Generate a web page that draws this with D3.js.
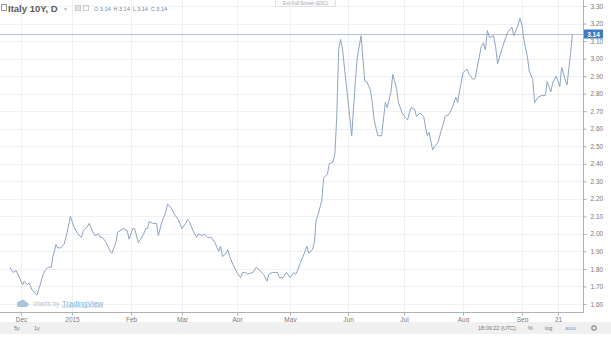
<!DOCTYPE html>
<html>
<head>
<meta charset="utf-8">
<script src="https://cdn.jsdelivr.net/npm/d3@7"></script>
<style>
  html, body { margin: 0; padding: 0; background: #fff; }
  svg { display: block; font-family: "Liberation Sans", Arial, sans-serif; }
</style>
</head>
<body>
<svg id="chart" width="611" height="340"></svg>
<script>
// Italy 10Y daily yield
const dates = [
  '2014-11-24', '2014-11-26', '2014-11-28', '2014-11-30', '2014-12-02', '2014-12-03', '2014-12-05', '2014-12-06',
  '2014-12-08', '2014-12-11', '2014-12-13', '2014-12-15', '2014-12-16', '2014-12-18', '2014-12-20', '2014-12-21',
  '2014-12-23', '2014-12-24', '2014-12-26', '2014-12-28', '2014-12-30', '2015-01-01', '2015-01-03', '2015-01-05',
  '2015-01-07', '2015-01-08', '2015-01-10', '2015-01-11', '2015-01-13', '2015-01-14', '2015-01-16', '2015-01-17',
  '2015-01-18', '2015-01-20', '2015-01-22', '2015-01-23', '2015-01-25', '2015-01-26', '2015-01-29', '2015-01-31',
  '2015-02-01', '2015-02-03', '2015-02-04', '2015-02-06', '2015-02-09', '2015-02-10', '2015-02-11', '2015-02-12',
  '2015-02-14', '2015-02-16', '2015-02-17', '2015-02-19', '2015-02-21', '2015-02-22', '2015-02-24', '2015-02-26',
  '2015-02-28', '2015-03-02', '2015-03-04', '2015-03-05', '2015-03-06', '2015-03-08', '2015-03-10', '2015-03-11',
  '2015-03-13', '2015-03-14', '2015-03-16', '2015-03-18', '2015-03-20', '2015-03-22', '2015-03-23', '2015-03-24',
  '2015-03-26', '2015-03-27', '2015-03-28', '2015-03-30', '2015-04-01', '2015-04-03', '2015-04-04', '2015-04-06',
  '2015-04-07', '2015-04-10', '2015-04-12', '2015-04-14', '2015-04-16', '2015-04-18', '2015-04-19', '2015-04-21',
  '2015-04-24', '2015-04-25', '2015-04-27', '2015-04-29', '2015-05-01', '2015-05-03', '2015-05-04', '2015-05-05',
  '2015-05-07', '2015-05-08', '2015-05-10', '2015-05-11', '2015-05-13', '2015-05-14', '2015-05-15', '2015-05-16',
  '2015-05-18', '2015-05-19', '2015-05-21', '2015-05-22', '2015-05-24', '2015-05-25', '2015-05-26', '2015-05-27',
  '2015-05-28', '2015-05-29', '2015-05-31', '2015-06-01', '2015-06-03', '2015-06-05', '2015-06-06', '2015-06-08',
  '2015-06-10', '2015-06-11', '2015-06-13', '2015-06-14', '2015-06-15', '2015-06-17', '2015-06-19', '2015-06-21',
  '2015-06-22', '2015-06-24', '2015-06-25', '2015-06-27', '2015-06-28', '2015-06-30', '2015-07-02', '2015-07-03',
  '2015-07-04', '2015-07-05', '2015-07-07', '2015-07-08', '2015-07-10', '2015-07-12', '2015-07-13', '2015-07-14',
  '2015-07-15', '2015-07-17', '2015-07-19', '2015-07-20', '2015-07-21', '2015-07-23', '2015-07-24', '2015-07-26',
  '2015-07-28', '2015-07-30', '2015-07-31', '2015-08-01', '2015-08-03', '2015-08-05', '2015-08-06', '2015-08-08',
  '2015-08-09', '2015-08-10', '2015-08-12', '2015-08-13', '2015-08-14', '2015-08-15', '2015-08-16', '2015-08-18',
  '2015-08-19', '2015-08-20', '2015-08-22', '2015-08-24', '2015-08-25', '2015-08-27', '2015-08-28', '2015-08-30',
  '2015-08-31', '2015-09-01', '2015-09-02', '2015-09-04', '2015-09-05', '2015-09-07', '2015-09-08', '2015-09-10',
  '2015-09-12', '2015-09-14', '2015-09-15', '2015-09-17', '2015-09-18', '2015-09-20', '2015-09-22', '2015-09-23',
  '2015-09-25', '2015-09-26', '2015-09-28', '2015-09-29'
];
const yields = [
  1.81, 1.78, 1.79, 1.75, 1.71, 1.73, 1.71, 1.72,
  1.68, 1.65, 1.71, 1.77, 1.79, 1.81, 1.81, 1.87,
  1.94, 1.92, 1.92, 1.94, 2.01, 2.10, 2.04, 2.00,
  1.98, 2.02, 2.04, 2.06, 2.01, 1.99, 2.00, 1.98,
  1.98, 1.95, 1.90, 1.89, 1.95, 2.01, 2.03, 2.02,
  1.97, 2.03, 2.03, 1.95, 2.00, 2.03, 2.03, 2.07,
  2.06, 2.06, 1.99, 2.07, 2.12, 2.17, 2.15, 2.11,
  2.08, 2.03, 2.06, 2.08, 2.07, 2.02, 1.98, 2.00,
  1.99, 2.00, 1.98, 1.98, 1.95, 1.90, 1.93, 1.87,
  1.89, 1.91, 1.87, 1.82, 1.78, 1.75, 1.78, 1.78,
  1.77, 1.78, 1.81, 1.79, 1.77, 1.73, 1.77, 1.78,
  1.78, 1.75, 1.75, 1.78, 1.75, 1.78, 1.77, 1.79,
  1.85, 1.87, 1.93, 1.89, 1.91, 1.95, 2.08, 2.11,
  2.19, 2.32, 2.34, 2.40, 2.41, 2.46, 2.67, 3.05,
  3.11, 3.06, 2.86, 2.76, 2.56, 2.88, 3.01, 3.13,
  2.87, 2.87, 2.82, 2.75, 2.65, 2.56, 2.56, 2.75,
  2.72, 2.81, 2.91, 2.83, 2.75, 2.69, 2.66, 2.65,
  2.69, 2.72, 2.71, 2.67, 2.69, 2.67, 2.61, 2.56,
  2.58, 2.48, 2.51, 2.52, 2.56, 2.63, 2.67, 2.68,
  2.72, 2.78, 2.75, 2.81, 2.92, 2.94, 2.91, 2.88,
  2.89, 2.95, 3.07, 3.09, 3.05, 3.16, 3.12, 3.13,
  3.07, 2.97, 3.05, 3.12, 3.15, 3.18, 3.13, 3.19,
  3.23, 3.19, 3.11, 3.01, 2.93, 2.88, 2.75, 2.78,
  2.79, 2.79, 2.87, 2.81, 2.86, 2.90, 2.84, 2.95,
  2.88, 2.85, 3.03, 3.14
];
const lastPrice = 3.14;

// axis ticks
const yTicks = [1.60, 1.70, 1.80, 1.90, 2.00, 2.10, 2.20, 2.30, 2.40, 2.50, 2.60, 2.70, 2.80, 2.90, 3.00, 3.10, 3.20, 3.30];
const monthTicks = ['2014-12-01', '2015-01-02', '2015-02-02', '2015-03-02', '2015-04-01', '2015-05-01',
  '2015-06-01', '2015-07-01', '2015-08-03', '2015-09-01', '2015-09-21'];
const monthLabels = ['Dec', '2015', 'Feb', 'Mar', 'Apr', 'May', 'Jun', 'Jul', 'Aug', 'Sep', '21'];

const parse = d3.timeParse('%Y-%m-%d');
const data = dates.map((d, i) => ({ date: parse(d), value: yields[i] }));
const tickDates = monthTicks.map(parse);

const plotRight = 583;
const plotBottom = 312;
const gridColor = '#eef0f3';
const textColor = '#777';

const svg = d3.select('#chart');

// bar spacing is by trading day, so months are not equally wide
const x = d3.scaleTime()
  .domain(tickDates)
  .range([21, 72, 131, 182, 237, 290, 348, 404, 463, 522, 558]);

const y = d3.scaleLinear()
  .domain([1.60, 3.30])
  .range([304, 6]);

// grid
svg.append('g')
  .selectAll('line')
  .data(yTicks)
  .join('line')
  .attr('x1', 0)
  .attr('x2', plotRight)
  .attr('y1', d => Math.round(y(d)) + 0.5)
  .attr('y2', d => Math.round(y(d)) + 0.5)
  .attr('stroke', gridColor);

svg.append('g')
  .selectAll('line')
  .data(tickDates)
  .join('line')
  .attr('x1', d => Math.round(x(d)) + 0.5)
  .attr('x2', d => Math.round(x(d)) + 0.5)
  .attr('y1', 0)
  .attr('y2', plotBottom)
  .attr('stroke', gridColor);

// watermark
const wm = svg.append('g').attr('transform', 'translate(17,303)');
wm.append('path')
  .attr('d', 'M0,2 a3,3 0 0 1 3,-4 a3.5,3.5 0 0 1 6,1 a2.5,2.5 0 0 1 0,5 h-8 a2,2 0 0 1 -1,-2 z')
  .attr('fill', '#a9c4dc');
wm.append('text')
  .attr('x', 16).attr('y', 2.5)
  .attr('font-size', 6.5)
  .attr('fill', '#b9c6d3')
  .text('charts by');
wm.append('text')
  .attr('x', 45).attr('y', 2.5)
  .attr('font-size', 7.5)
  .attr('fill', '#7fb3da')
  .attr('text-decoration', 'underline')
  .text('TradingView');

// last price line
svg.append('line')
  .attr('x1', 0)
  .attr('x2', plotRight)
  .attr('y1', Math.round(y(lastPrice)) + 0.5)
  .attr('y2', Math.round(y(lastPrice)) + 0.5)
  .attr('stroke', '#b3c2d6');

// yield line
svg.append('path')
  .datum(data)
  .attr('fill', 'none')
  .attr('stroke', '#8ea3c3')
  .attr('stroke-width', 1)
  .attr('stroke-linejoin', 'round')
  .attr('d', d3.line()
    .x(d => x(d.date))
    .y(d => y(d.value)));

// frame
svg.append('line')
  .attr('x1', plotRight + 0.5).attr('x2', plotRight + 0.5)
  .attr('y1', 0).attr('y2', plotBottom + 0.5)
  .attr('stroke', '#b0b0b0');
svg.append('line')
  .attr('x1', 0).attr('x2', plotRight + 0.5)
  .attr('y1', plotBottom + 0.5).attr('y2', plotBottom + 0.5)
  .attr('stroke', '#b0b0b0');

// right axis
const yAxis = svg.append('g')
  .attr('transform', 'translate(' + (plotRight + 0.5) + ',0)')
  .call(d3.axisRight(y)
    .tickValues(yTicks)
    .tickFormat(d3.format('.2f'))
    .tickSize(3)
    .tickPadding(4));
yAxis.select('.domain').remove();
yAxis.selectAll('line').attr('stroke', '#b0b0b0');
yAxis.selectAll('text')
  .attr('fill', textColor)
  .attr('font-size', 6.5)
  .attr('font-family', '"Liberation Sans", Arial, sans-serif');

// bottom axis
const xAxis = svg.append('g')
  .attr('transform', 'translate(0,' + (plotBottom + 0.5) + ')')
  .call(d3.axisBottom(x)
    .tickValues(tickDates)
    .tickFormat((d, i) => monthLabels[i])
    .tickSize(3)
    .tickPadding(1.5));
xAxis.select('.domain').remove();
xAxis.selectAll('line').attr('stroke', '#b0b0b0');
xAxis.selectAll('text')
  .attr('fill', textColor)
  .attr('font-size', 6.5)
  .attr('font-family', '"Liberation Sans", Arial, sans-serif');

// last price label
const lp = svg.append('g')
  .attr('transform', 'translate(' + (plotRight + 1) + ',' + Math.round(y(lastPrice)) + ')');
lp.append('rect')
  .attr('x', 0).attr('y', -4.5)
  .attr('width', 19).attr('height', 9)
  .attr('fill', '#3e79c1');
lp.append('text')
  .attr('x', 9.5).attr('y', 2.5)
  .attr('text-anchor', 'middle')
  .attr('font-size', 6.5)
  .attr('font-weight', 'bold')
  .attr('fill', '#fff')
  .text(lastPrice.toFixed(2));

// header
const hd = svg.append('g');
hd.append('rect')
  .attr('x', 1.5).attr('y', 4.5)
  .attr('width', 5).attr('height', 6)
  .attr('fill', 'none')
  .attr('stroke', '#999');
hd.append('text')
  .attr('x', 8).attr('y', 12)
  .attr('font-size', 9.5)
  .attr('font-weight', 'bold')
  .attr('fill', '#5a5a5a')
  .text('Italy 10Y, D');
hd.append('text')
  .attr('x', 64).attr('y', 11)
  .attr('font-size', 6)
  .attr('fill', '#bbb')
  .text('\u25BE');
hd.append('rect')
  .attr('x', 75.5).attr('y', 5.5)
  .attr('width', 5).attr('height', 5)
  .attr('fill', '#e4e4e4')
  .attr('stroke', '#ccc');
hd.append('rect')
  .attr('x', 83.5).attr('y', 5.5)
  .attr('width', 5).attr('height', 5)
  .attr('fill', 'none')
  .attr('stroke', '#ccc');

const ohlc = hd.append('text')
  .attr('x', 94).attr('y', 11)
  .attr('font-size', 5.5)
  .attr('fill', '#888');
['O', 'H', 'L', 'C'].forEach((k, i) => {
  ohlc.append('tspan').attr('dx', i ? 3 : 0).text(k + ' ');
  ohlc.append('tspan').attr('fill', '#5b86b8').text(lastPrice.toFixed(2));
});

// exit full screen hint
svg.append('rect')
  .attr('x', 275.5).attr('y', -0.5)
  .attr('width', 60).attr('height', 7)
  .attr('fill', '#fbfbfb')
  .attr('stroke', '#e2e2e2');
svg.append('text')
  .attr('x', 305.5).attr('y', 4.5)
  .attr('text-anchor', 'middle')
  .attr('font-size', 4.5)
  .attr('fill', '#aaa')
  .text('Exit Full Screen (ESC)');

// bottom toolbar
svg.append('rect')
  .attr('x', 0).attr('y', 322)
  .attr('width', 611).attr('height', 12)
  .attr('fill', '#f0f0f0');
const tb = svg.append('g')
  .attr('font-size', 5.5)
  .attr('fill', '#777');
tb.append('text').attr('x', 14).attr('y', 330).text('5y');
tb.append('text').attr('x', 34).attr('y', 330).text('1y');
tb.append('text').attr('x', 478).attr('y', 330).text('18:09:22 (UTC)');
tb.append('text').attr('x', 528).attr('y', 330).text('%');
tb.append('text').attr('x', 545).attr('y', 330).text('log');
tb.append('text').attr('x', 565).attr('y', 330).attr('fill', '#6fa3d6').text('auto');
tb.append('circle')
  .attr('cx', 594).attr('cy', 328)
  .attr('r', 2.2)
  .attr('fill', 'none')
  .attr('stroke', '#888')
  .attr('stroke-width', 1.2);
</script>
</body>
</html>
